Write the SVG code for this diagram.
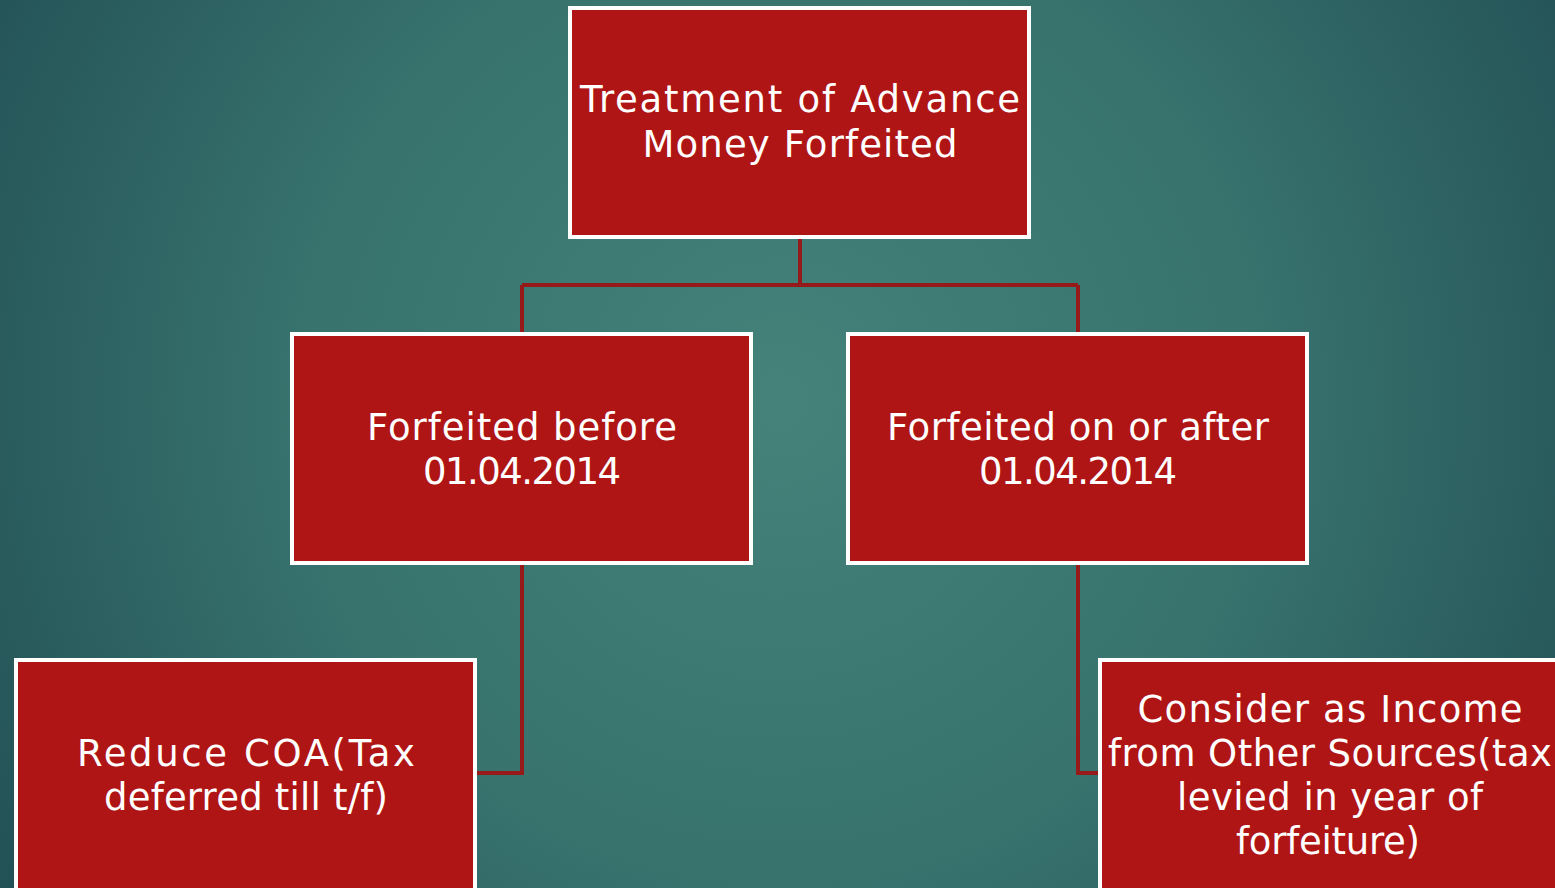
<svg xmlns="http://www.w3.org/2000/svg" width="1555" height="888" viewBox="0 0 1555 888">
<defs>
<radialGradient id="bg" cx="780" cy="400" r="950" gradientUnits="userSpaceOnUse">
<stop offset="0" stop-color="#44827A"/>
<stop offset="0.5" stop-color="#38736E"/>
<stop offset="1" stop-color="#214F54"/>
</radialGradient>
<style>
.box{fill:#AF1515;stroke:#FFFFFF;stroke-width:4}
.lbl{fill:#FFFFFF;font-family:"DejaVu Sans","Liberation Sans",sans-serif;font-size:37px;text-anchor:middle}
.con{fill:none;stroke:#961A1A;stroke-width:4}
</style>
</defs>
<rect x="0" y="0" width="1555" height="888" fill="url(#bg)"/>
<g id="connectors">
<path class="con" d="M800 238 V285 M522 285 H1078 M522 285 V332 M1078 285 V332"/>
<path class="con" d="M522 564 V773 H476"/>
<path class="con" d="M1078 564 V773 H1098"/>
</g>
<g id="root">
<rect class="box" x="570" y="8" width="459" height="229"/>
<text class="lbl" x="800" y="112" textLength="440" lengthAdjust="spacing">Treatment of Advance</text>
<text class="lbl" x="800" y="157" textLength="315" lengthAdjust="spacing">Money Forfeited</text>
</g>
<g id="before">
<rect class="box" x="292" y="334" width="459" height="229"/>
<text class="lbl" x="522" y="440" textLength="310" lengthAdjust="spacing">Forfeited before</text>
<text class="lbl" x="522" y="484" textLength="198" lengthAdjust="spacing">01.04.2014</text>
</g>
<g id="after">
<rect class="box" x="848" y="334" width="459" height="229"/>
<text class="lbl" x="1078" y="440" textLength="382" lengthAdjust="spacing">Forfeited on or after</text>
<text class="lbl" x="1078" y="484" textLength="198" lengthAdjust="spacing">01.04.2014</text>
</g>
<g id="reduce">
<rect class="box" x="16" y="660" width="459" height="240"/>
<text class="lbl" x="246" y="766" textLength="338" lengthAdjust="spacing">Reduce COA(Tax</text>
<text class="lbl" x="246" y="810" textLength="284" lengthAdjust="spacing">deferred till t/f)</text>
</g>
<g id="income">
<rect class="box" x="1100" y="660" width="470" height="240"/>
<text class="lbl" x="1330" y="722" textLength="385" lengthAdjust="spacing">Consider as Income</text>
<text class="lbl" x="1330" y="766" textLength="444" lengthAdjust="spacing">from Other Sources(tax</text>
<text class="lbl" x="1330" y="810" textLength="306" lengthAdjust="spacing">levied in year of</text>
<text class="lbl" x="1328" y="854" textLength="184" lengthAdjust="spacing">forfeiture)</text>
</g>
</svg>
